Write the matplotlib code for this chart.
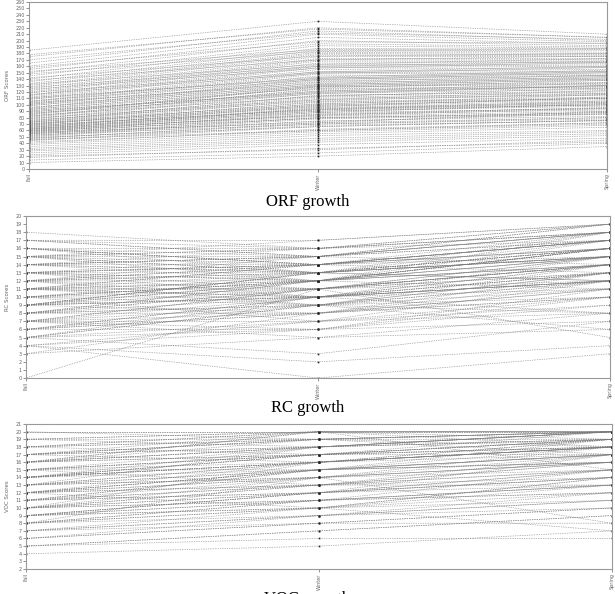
import matplotlib
matplotlib.use("Agg")
import matplotlib.pyplot as plt

seasons = ["Fall", "Winter", "Spring"]

# ORF scores per student (fall, winter, spring)
orf_fall = [10, 14, 18, 20, 22, 25, 28, 30, 32, 35, 38, 40, 42, 44, 45, 47, 48, 50, 51, 52,
            54, 55, 56, 57, 58, 59, 60, 61, 62, 63, 64, 65, 66, 68, 69, 70, 72, 73, 74, 75,
            77, 78, 80, 81, 82, 84, 85, 86, 88, 90, 92, 94, 95, 98, 100, 102, 104, 105, 108, 110,
            112, 114, 115, 118, 120, 122, 125, 128, 130, 133, 136, 140, 145, 150, 155, 160, 165, 170, 175, 185,
            46, 49, 53, 55, 57, 59, 60, 62, 63, 65, 67, 68, 70, 71, 73, 76, 79, 83, 87, 89,
            91, 93, 96, 99, 101, 103, 106, 109, 111, 116, 119, 124, 127, 132, 138, 142, 148, 152, 158, 178]
orf_winter = [20, 25, 32, 30, 38, 42, 45, 48, 52, 55, 58, 62, 60, 66, 68, 72, 70, 75, 78, 80,
              80, 85, 82, 88, 86, 90, 92, 95, 94, 96, 100, 98, 102, 105, 104, 108, 110, 112, 115, 114,
              118, 120, 122, 125, 124, 128, 130, 128, 132, 135, 138, 140, 142, 145, 148, 150, 152, 155, 158, 160,
              162, 165, 168, 170, 172, 175, 178, 180, 182, 185, 188, 192, 195, 200, 205, 210, 215, 212, 220, 230,
              60, 66, 70, 74, 72, 79, 84, 83, 88, 90, 93, 92, 97, 99, 101, 106, 108, 113, 117, 121,
              119, 126, 129, 131, 136, 133, 139, 143, 141, 149, 151, 157, 160, 163, 170, 176, 183, 186, 198, 218]
orf_spring = [35, 40, 42, 45, 48, 52, 55, 58, 60, 65, 68, 72, 70, 76, 75, 80, 78, 82, 85, 88,
              86, 92, 90, 94, 95, 98, 100, 102, 100, 104, 108, 106, 110, 112, 110, 115, 116, 118, 120, 122,
              124, 126, 128, 130, 128, 132, 135, 134, 138, 140, 142, 145, 146, 148, 150, 152, 155, 158, 160, 162,
              164, 166, 168, 170, 172, 175, 176, 178, 180, 182, 185, 188, 190, 192, 195, 198, 200, 202, 205, 210,
              72, 76, 80, 86, 90, 88, 96, 94, 102, 100, 106, 104, 112, 110, 116, 118, 122, 126, 130, 134,
              130, 138, 140, 142, 146, 144, 150, 154, 152, 158, 160, 166, 168, 172, 176, 180, 186, 188, 196, 205]

# RC scores per student
rc_fall = [0, 3, 4, 4, 4, 5, 5, 5, 6, 6, 6, 7, 7, 7, 7, 8, 8, 8, 8, 9, 9, 9, 9, 9, 10, 10, 10, 10,
           11, 11, 11, 11, 11, 12, 12, 12, 12, 12, 13, 13, 13, 13, 14, 14, 14, 14, 15, 15, 15, 15,
           16, 16, 16, 17, 17, 18, 12, 10, 8, 14, 6, 13, 9, 11, 15, 7, 5, 16,
           4, 5, 6, 7, 8, 9, 10, 11, 12, 13, 14, 15, 16, 17, 3, 5, 7, 9, 11, 13,
           15, 6, 8, 10, 12, 14, 16, 9, 11, 13, 10, 12, 14, 8, 7, 15, 17, 11, 13, 9]
rc_winter = [11, 5, 0, 2, 6, 3, 7, 9, 8, 6, 10, 9, 7, 11, 5, 10, 8, 12, 9, 11, 10, 8, 12, 13, 10, 12, 9, 11,
             13, 10, 12, 14, 11, 13, 12, 11, 14, 15, 13, 14, 12, 15, 14, 16, 13, 15, 15, 14, 16, 17, 13,
             16, 15, 17, 16, 16, 9, 7, 11, 12, 8, 14, 13, 10, 13, 6, 6, 14,
             7, 9, 10, 8, 12, 10, 13, 11, 14, 12, 15, 13, 14, 15, 8, 10, 11, 13, 12, 14,
             16, 9, 11, 12, 13, 15, 14, 10, 9, 11, 12, 10, 13, 9, 10, 12, 15, 14, 10, 12]
rc_spring = [15, 6, 3, 4, 9, 7, 8, 12, 10, 11, 13, 10, 12, 14, 8, 12, 11, 14, 13, 13, 12, 10, 15, 16, 13, 15, 11, 14,
             15, 12, 16, 17, 14, 16, 15, 13, 17, 18, 16, 17, 14, 18, 17, 18, 15, 17, 18, 16, 19, 19, 15,
             18, 17, 19, 18, 19, 6, 9, 5, 16, 12, 17, 15, 8, 18, 10, 7, 16,
             10, 8, 12, 13, 11, 14, 12, 15, 13, 16, 14, 17, 18, 19, 11, 12, 14, 12, 16, 15,
             17, 13, 14, 16, 15, 18, 17, 13, 14, 12, 17, 14, 16, 12, 11, 18, 19, 16, 15, 14]

# VOC scores per student
voc_fall = [4, 5, 5, 6, 7, 7, 8, 8, 8, 9, 9, 9, 10, 10, 10, 10, 11, 11, 11, 12, 12, 12, 12, 13, 13, 13,
            14, 14, 14, 14, 15, 15, 15, 16, 16, 16, 16, 17, 17, 17, 18, 18, 19, 19, 20, 20, 8, 10, 12, 14,
            11, 9, 13, 15, 17, 16, 6, 18,
            5, 6, 7, 8, 9, 10, 11, 12, 13, 14, 15, 16, 17, 18, 19, 20, 8, 9, 10, 11,
            12, 13, 14, 15, 16, 17, 18, 10, 12, 14, 16, 9, 11, 13, 15, 17, 19, 7, 12, 14]
voc_winter = [5, 7, 6, 8, 9, 8, 10, 9, 11, 12, 10, 11, 13, 12, 11, 14, 13, 12, 15, 14, 13, 15, 16, 14, 16, 15,
              17, 15, 16, 18, 17, 16, 18, 19, 17, 18, 20, 18, 19, 20, 19, 20, 20, 19, 20, 19, 14, 16, 10, 17,
              15, 12, 18, 13, 16, 20, 9, 17,
              7, 8, 9, 11, 10, 12, 14, 13, 15, 16, 15, 17, 18, 19, 18, 20, 10, 12, 11, 13,
              15, 14, 16, 17, 18, 19, 20, 13, 14, 17, 18, 11, 12, 16, 17, 19, 20, 10, 15, 16]
voc_spring = [7, 9, 6, 10, 11, 8, 12, 10, 13, 14, 11, 12, 15, 14, 12, 16, 15, 13, 17, 16, 14, 17, 18, 15, 18, 16,
              19, 17, 18, 20, 19, 17, 20, 20, 18, 19, 20, 19, 20, 20, 20, 20, 19, 18, 20, 17, 8, 18, 7, 19,
              16, 14, 20, 13, 18, 15, 11, 17,
              9, 10, 12, 13, 14, 15, 16, 17, 16, 18, 19, 18, 20, 20, 19, 20, 14, 15, 13, 16,
              18, 17, 19, 18, 20, 19, 20, 16, 18, 19, 20, 15, 17, 18, 20, 20, 18, 13, 17, 19]

plt.rcParams['font.family'] = 'DejaVu Sans'
fig = plt.figure(figsize=(6.15, 5.94), dpi=100)

panels = [
    ([0.047, 0.7155, 0.940, 0.281], orf_fall, orf_winter, orf_spring, (0, 260), range(0, 261, 10), "ORF Scores"),
    ([0.042, 0.3636, 0.950, 0.2727], rc_fall, rc_winter, rc_spring, (0, 20), range(0, 21), "RC Scores"),
    ([0.042, 0.0421, 0.953, 0.244], voc_fall, voc_winter, voc_spring, (2, 21), range(2, 22), "VOC Scores"),
]

for rect, fall, winter, spring, ylim, yticks, ylab in panels:
    ax = fig.add_axes(rect)
    for a, b, c in zip(fall, winter, spring):
        ax.plot([0, 1, 2], [a, b, c], color="#7a7a7a", lw=0.5, linestyle=(0, (1, 1.5)),
                marker="s", ms=1.2, mfc="#222222", mec="none")
    ax.set_xlim(0, 2)
    ax.set_ylim(*ylim)
    ax.set_yticks(list(yticks))
    ax.set_xticks([0, 1, 2])
    ax.set_xticklabels(seasons, rotation=90)
    ax.tick_params(labelsize=3.5, colors="#666666", length=2, width=0.5, pad=1)
    ax.set_ylabel(ylab, fontsize=4, color="#666666", labelpad=4)
    for s in ax.spines.values():
        s.set_color("#999999")
        s.set_linewidth(0.8)

cap = dict(ha="center", fontsize=12, family="Liberation Serif")
fig.text(0.5, 0.660, "ORF growth", va="center", **cap)
fig.text(0.5, 0.313, "RC growth", va="center", **cap)
fig.text(0.5, 0.005, "VOC growth", va="top", **cap)

fig.savefig("out.png", dpi=100)
